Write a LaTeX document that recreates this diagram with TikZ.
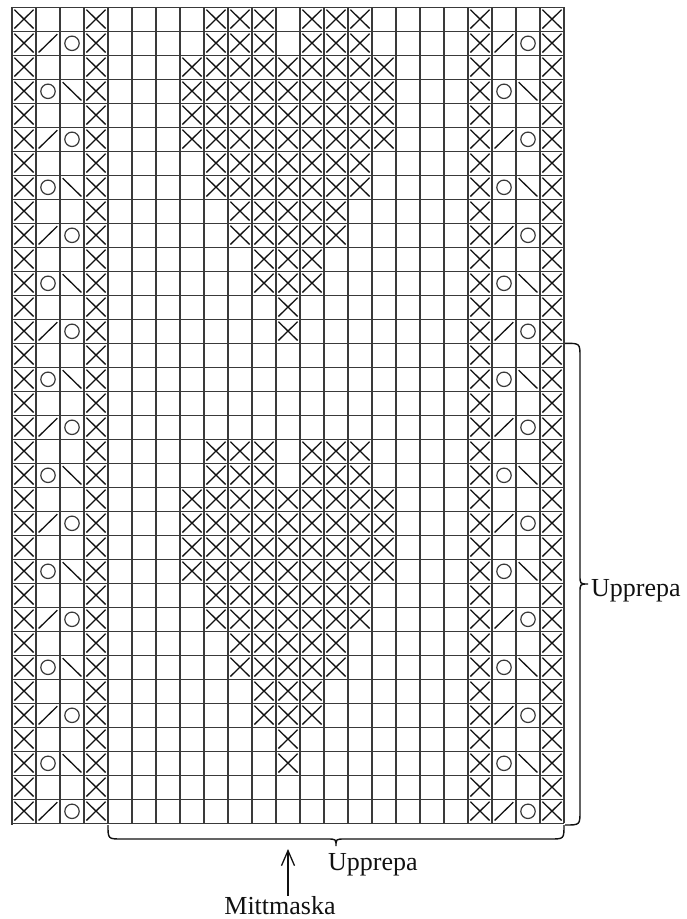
\documentclass[tikz,border=0pt]{standalone}
\usepackage{fontspec}
\setmainfont{Liberation Serif}
\usetikzlibrary{arrows.meta}
\definecolor{gridc}{HTML}{3A3A3A}
\definecolor{inkc}{HTML}{111111}
\tikzset{
  gridline/.style={draw=gridc,line width=1.1pt},
  xmark/.style={draw=inkc,line width=1.3pt},
  slmark/.style={draw=inkc,line width=1.3pt},
  cmark/.style={draw=gridc,line width=1.2pt},
  bracec/.style={draw=inkc,line width=1.4pt},
  lbl/.style={font=\fontsize{26}{30}\selectfont,text=inkc,inner sep=0pt},
  xc/.pic={\path[xmark] (0.1,0.1)--(0.9,0.88) (0.9,0.1)--(0.1,0.88);},
  fsl/.pic={\path[slmark] (0.11,0.88)--(0.89,0.12);},
  bsl/.pic={\path[slmark] (0.11,0.12)--(0.89,0.88);},
  oc/.pic={\path[cmark] (0.5,0.5) circle[radius=7.2pt];}
}
\newcommand\heartat[1]{%
  \foreach \dr/\cols in {0/{8,9,10,12,13,14},1/{8,9,10,12,13,14},
     2/{7,...,15},3/{7,...,15},4/{7,...,15},5/{7,...,15},
     6/{8,...,14},7/{8,...,14},8/{9,...,13},9/{9,...,13},
     10/{10,11,12},11/{10,11,12},12/{11},13/{11}}{%
    \foreach \c in \cols {\pic at (\c,#1+\dr) {xc};}}}
\begin{document}
\begin{tikzpicture}[x=1pt,y=-1pt]
\useasboundingbox (0,0) rectangle (686,919);
\begin{scope}[xshift=12pt,yshift=-7.3pt,x=24pt,y=-24pt]
  \foreach \i in {0,...,23} {\path[gridline] (\i,0) -- (\i,34);}
  \foreach \j in {0,...,34} {\path[gridline] (0,\j) -- (23,\j);}
  \path[gridline,line width=2pt] (0,-0.02) -- (0,34.05);
  \foreach \r in {0,...,33} {
    \pic at (0,\r) {xc}; \pic at (3,\r) {xc};
    \pic at (19,\r) {xc}; \pic at (22,\r) {xc};
  }
  \foreach \r in {1,5,...,33} {
    \pic at (1,\r) {fsl}; \pic at (2,\r) {oc};
    \pic at (20,\r) {fsl}; \pic at (21,\r) {oc};
  }
  \foreach \r in {3,7,...,31} {
    \pic at (1,\r) {oc}; \pic at (2,\r) {bsl};
    \pic at (20,\r) {oc}; \pic at (21,\r) {bsl};
  }
  \heartat{0}
  \heartat{18}
\end{scope}
% right brace
\path[bracec] (565,343.3) .. controls (580,343.3) .. (580,357)
  -- (580,575) .. controls (580,584) .. (588,584)
  .. controls (580,584) .. (580,593) -- (580,811)
  .. controls (580,825) .. (565,825);
% bottom brace
\path[bracec] (108,825) .. controls (108,839) .. (122,839)
  -- (327,839) .. controls (336,839) .. (336,846)
  .. controls (336,839) .. (345,839) -- (550,839)
  .. controls (564,839) .. (564,825);
\node[lbl,anchor=base west] (uppr) at (591,596) {Upprepa};
\node[lbl,anchor=base west] (uppb) at (328,870) {Upprepa};
\node[lbl,anchor=base] (mitt) at (280,914) {Mittmaska};
\coordinate (mtip) at (288,849);
\draw[draw=inkc,line width=1.3pt,-{Straight Barb[length=15pt,width=13pt]}] (mitt.north -| mtip) -- (mtip);
\end{tikzpicture}
\end{document}
